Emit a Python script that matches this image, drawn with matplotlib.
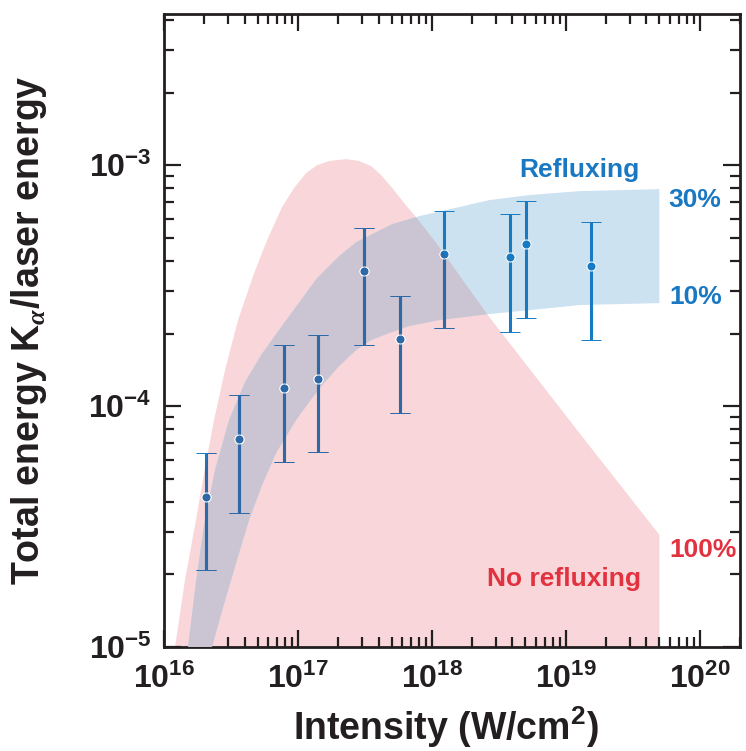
import matplotlib
matplotlib.use('Agg')
import matplotlib.pyplot as plt
from matplotlib.ticker import NullFormatter

plt.rcParams['font.family'] = ['Liberation Sans', 'DejaVu Sans']
plt.rcParams['font.weight'] = 'bold'
plt.rcParams['mathtext.fontset'] = 'custom'
plt.rcParams['mathtext.rm'] = 'Liberation Sans:bold'
plt.rcParams['mathtext.bf'] = 'Liberation Sans:bold'
plt.rcParams['mathtext.it'] = 'Liberation Serif:italic:bold'
plt.rcParams['mathtext.default'] = 'rm'

# ── measured K-alpha yield ────────────────────────────────────────────────
intensity = [2.06e16, 3.63e16, 7.85e16, 1.42e17, 3.14e17, 5.81e17,
             1.24e18, 3.86e18, 5.05e18, 1.55e19]
ratio     = [4.19e-5, 7.30e-5, 1.19e-4, 1.30e-4, 3.62e-4, 1.90e-4,
             4.26e-4, 4.14e-4, 4.69e-4, 3.82e-4]
ratio_hi  = [6.38e-5, 1.11e-4, 1.80e-4, 1.98e-4, 5.48e-4, 2.87e-4,
             6.44e-4, 6.26e-4, 7.11e-4, 5.82e-4]
ratio_lo  = [2.09e-5, 3.60e-5, 5.86e-5, 6.44e-5, 1.79e-4, 9.38e-5,
             2.10e-4, 2.03e-4, 2.32e-4, 1.88e-4]

# ── model: no refluxing (100%) ────────────────────────────────────────────
norefl_x = [1.21e16, 1.435e16, 1.734e16, 2.025e16, 2.364e16, 2.857e16,
            3.573e16, 4.707e16, 5.888e16, 7.62e16, 9.37e16, 1.151e17,
            1.392e17, 1.711e17, 2.291e17, 2.866e17, 3.524e17, 4.115e17,
            5.058e17, 6.22e17, 8.05e17, 1.079e18, 2.686e18, 1.264e19, 5.0e19]
norefl_y = [1.0e-5, 1.897e-5, 3.365e-5, 5.53e-5, 8.75e-5, 1.41e-4,
            2.275e-4, 3.56e-4, 4.88e-4, 6.70e-4, 8.03e-4, 9.27e-4,
            1.0e-3, 1.04e-3, 1.059e-3, 1.04e-3, 9.9e-4, 9.18e-4,
            8.03e-4, 6.95e-4, 5.86e-4, 4.75e-4, 2.34e-4, 7.73e-5, 2.92e-5]

# ── model: refluxing band, 30% (upper) and 10% (lower) ───────────────────
refl_hi_x = [1.511e16, 1.734e16, 1.991e16, 2.405e16, 3.061e16, 4.03e16,
             5.31e16, 6.87e16, 9.05e16, 1.392e17, 2.032e17, 2.723e17,
             5.058e17, 8.05e17, 1.603e18, 2.686e18, 5.346e18, 1.264e19, 5.0e19]
refl_hi_y = [1.0e-5, 1.861e-5, 3.21e-5, 5.43e-5, 8.75e-5, 1.258e-4,
             1.628e-4, 1.99e-4, 2.455e-4, 3.40e-4, 4.19e-4, 4.79e-4,
             5.69e-4, 6.14e-4, 6.70e-4, 7.16e-4, 7.51e-4, 7.80e-4, 7.95e-4]
refl_lo_x = [2.284e16, 2.621e16, 3.061e16, 3.636e16, 4.317e16, 5.40e16,
             6.87e16, 9.69e16, 1.213e17, 1.517e17, 2.032e17, 2.723e17,
             3.524e17, 4.805e17, 6.78e17, 1.136e18, 2.686e18, 5.346e18,
             1.264e19, 5.0e19]
refl_lo_y = [1.0e-5, 1.319e-5, 1.774e-5, 2.455e-5, 3.365e-5, 4.70e-5,
             6.38e-5, 8.75e-5, 1.039e-4, 1.222e-4, 1.466e-4, 1.708e-4,
             1.879e-4, 2.009e-4, 2.148e-4, 2.275e-4, 2.41e-4, 2.50e-4,
             2.625e-4, 2.675e-4]

xtick_vals = [1e16, 1e17, 1e18, 1e19, 1e20]
xtick_labels = [r'$10^{16}$', r'$10^{17}$', r'$10^{18}$', r'$10^{19}$', r'$10^{20}$']
ytick_vals = [1e-5, 1e-4, 1e-3]
ytick_labels = [r'$10^{-5}$', r'$10^{-4}$', r'$10^{-3}$']

PINK = '#f8d6d9'
LIGHTBLUE = '#cde2f0'
OVERLAP = '#cbc4d3'
BAR = '#177ac3'
BAR_DARK = '#2e68a6'
TXT_BLUE = '#1a78c2'
TXT_RED = '#e2323f'
INK = '#231f20'

fig = plt.figure(figsize=(7.46, 7.51), dpi=100)
ax = fig.add_axes([0.2198, 0.1385, 0.7722, 0.8429])
ax.set_xscale('log')
ax.set_yscale('log')
ax.set_xlim(1e16, 2e20)
ax.set_ylim(1e-5, 4.24e-3)

# pink area: curve down to the bottom of the axes
pink = ax.fill(norefl_x + [norefl_x[-1]], norefl_y + [norefl_y[0]],
               color=PINK, lw=0, zorder=1)[0]

band_x = refl_hi_x + refl_lo_x[::-1]
band_y = refl_hi_y + refl_lo_y[::-1]
ax.fill(band_x, band_y, color=LIGHTBLUE, lw=0, zorder=2)
over = ax.fill(band_x, band_y, color=OVERLAP, lw=0, zorder=3)[0]
over.set_clip_path(pink)

yerr = [[r - lo for r, lo in zip(ratio, ratio_lo)],
        [hi - r for r, hi in zip(ratio, ratio_hi)]]
for col, z, clip in [(BAR, 4, False), (BAR_DARK, 5, True)]:
    eb = ax.errorbar(intensity, ratio, yerr=yerr, fmt='o', color=col, ms=6.5,
                     mec='white', mew=0.7, elinewidth=2.2, capsize=7,
                     capthick=2.2, zorder=z)
    if clip:
        eb[0].set_clip_path(pink)
        for a in eb[1]:
            a.set_clip_path(pink)
        for a in eb[2]:
            a.set_clip_path(pink)

ax.text(1.26e19, 9.53e-4, 'Refluxing', color=TXT_BLUE, fontsize=19,
        ha='center', va='center')
ax.text(5.85e19, 7.16e-4, '30%', color=TXT_BLUE, fontsize=19, ha='left', va='center')
ax.text(5.95e19, 2.83e-4, '10%', color=TXT_BLUE, fontsize=19, ha='left', va='center')
ax.text(5.95e19, 2.52e-5, '100%', color=TXT_RED, fontsize=19, ha='left', va='center')
ax.text(9.77e18, 1.91e-5, 'No refluxing', color=TXT_RED, fontsize=19,
        ha='center', va='center')

ax.set_xticks(xtick_vals, xtick_labels)
ax.set_yticks(ytick_vals, ytick_labels)
ax.xaxis.set_minor_formatter(NullFormatter())
ax.yaxis.set_minor_formatter(NullFormatter())
ax.tick_params(which='both', direction='in', top=True, right=True,
               width=1.6, color=INK, labelcolor=INK)
ax.tick_params(which='major', length=12, labelsize=23)
ax.tick_params(which='minor', length=7)
ax.tick_params(axis='x', pad=12)
ax.tick_params(axis='y', pad=9)
for s in ax.spines.values():
    s.set_linewidth(2.0)
    s.set_color(INK)

ax.set_xlabel(r'Intensity (W/cm$^2$)', fontsize=27, fontweight='bold', color=INK)
ax.set_ylabel(r'Total energy K$_{\mathit{\alpha}}$/laser energy', fontsize=27,
              fontweight='bold', color=INK)
ax.xaxis.set_label_coords(0.49, -0.09)
ax.yaxis.set_label_coords(-0.2, 0.5)

fig.savefig('out.png', dpi=100)
